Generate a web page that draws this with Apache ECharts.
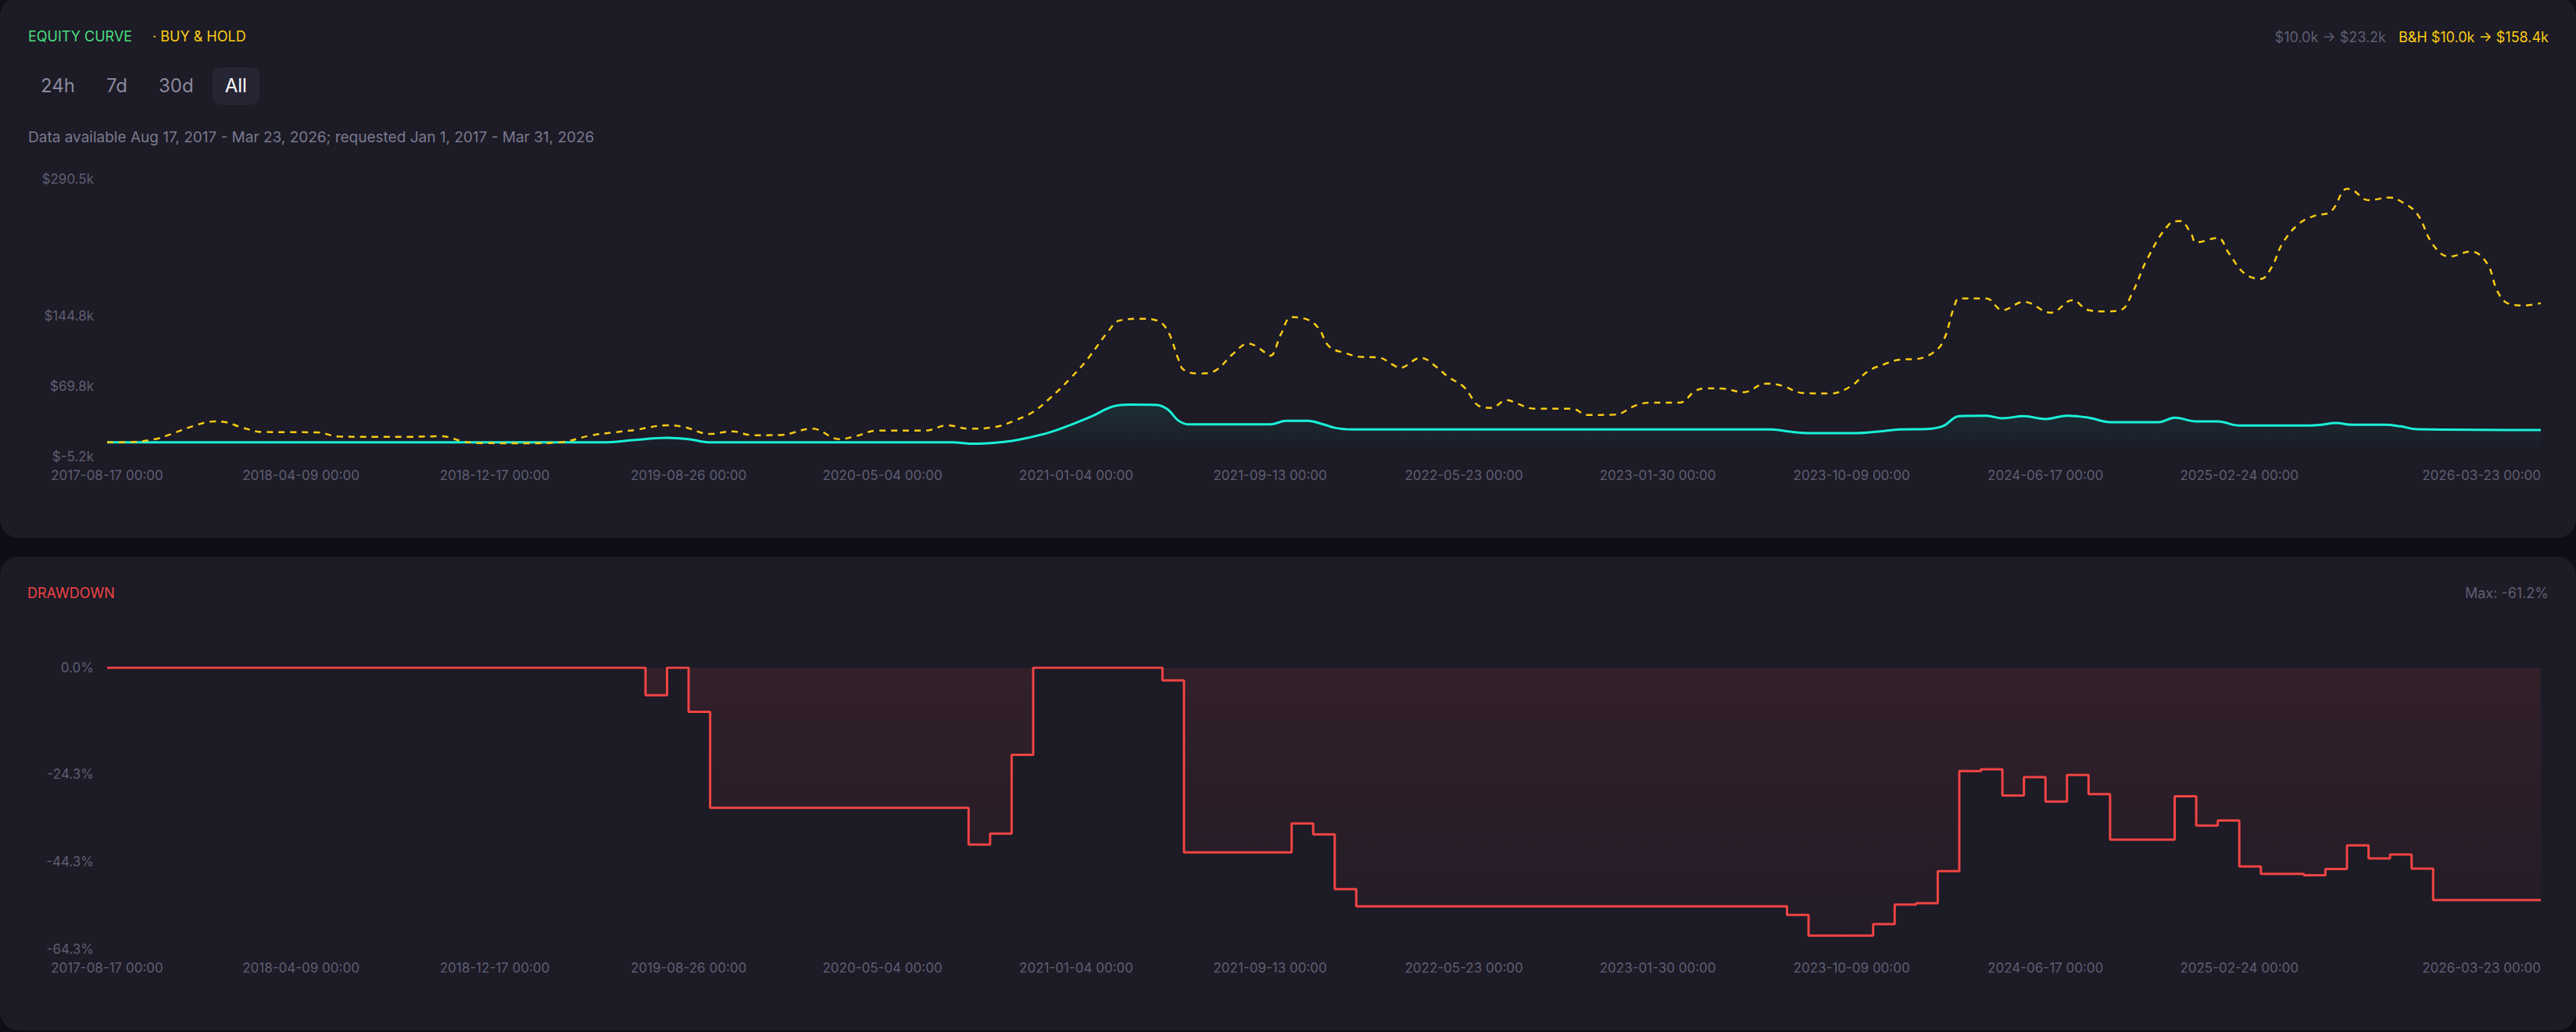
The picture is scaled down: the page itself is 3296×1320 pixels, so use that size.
<!DOCTYPE html>
<html>
<head>
<meta charset="utf-8">
<script src="https://cdn.jsdelivr.net/npm/echarts@6/dist/echarts.min.js"></script>
<style>
html,body{margin:0;padding:0;width:3296px;height:1320px;overflow:hidden;background:#0f0e17;font-family:Inter,'Noto Sans',sans-serif;}
.card{position:absolute;left:0;width:3296px;background:#1c1b26;border-radius:24px;}
#card1{top:-4px;height:692px;}
#card2{top:712px;height:606px;}
.t{position:absolute;white-space:nowrap;line-height:1;}
#title1{left:36px;top:38px;font-size:18px;color:#4ade80;}
#title1b{left:195px;top:38px;font-size:18px;color:#facc15;}
#hdrRight{position:absolute;right:35px;top:39px;font-size:18px;line-height:1;white-space:nowrap;display:flex;gap:16px;}
#hdrRight .g{color:#5f5e73;}
#hdrRight .y{color:#facc15;}
#btns{position:absolute;left:36px;top:86px;display:flex;gap:8px;}
#btns div{height:48px;line-height:48px;padding:0 16px;font-size:24px;color:#8a899c;border-radius:10px;}
#btns div.on{background:#262533;color:#ffffff;}
#avail{left:36px;top:166px;font-size:19px;color:#7a798e;}
#title2{left:35px;top:750px;font-size:18px;color:#ef4444;}
#maxdd{right:35px;top:750px;font-size:18px;color:#5f5e73;}
#chart{position:absolute;left:0;top:0;width:3296px;height:1320px;}
</style>
</head>
<body>
<div class="card" id="card1"></div>
<div class="card" id="card2"></div>
<div class="t" id="title1">EQUITY CURVE</div>
<div class="t" id="title1b">· BUY &amp; HOLD</div>
<div id="hdrRight"><span class="g">$10.0k → $23.2k</span><span class="y">B&amp;H $10.0k → $158.4k</span></div>
<div id="btns"><div>24h</div><div>7d</div><div>30d</div><div class="on">All</div></div>
<div class="t" id="avail">Data available Aug 17, 2017 - Mar 23, 2026; requested Jan 1, 2017 - Mar 31, 2026</div>
<div class="t" id="title2">DRAWDOWN</div>
<div class="t" id="maxdd">Max: -61.2%</div>
<div id="chart"></div>
<script>
// ---------- categories (weekly buckets) ----------
const headDates = ['2017-08-17', '2017-08-18', '2017-08-19'];
const extraDates = ['2021-01-01'];
function mondays(fromStr, toStr) {
  const out = [];
  let t = Date.parse(fromStr + 'T00:00:00Z');
  const end = Date.parse(toStr + 'T00:00:00Z');
  while (t <= end) { out.push(new Date(t).toISOString().slice(0, 10)); t += 7 * 86400000; }
  return out;
}
const categories = []
  .concat(headDates, mondays('2017-08-21', '2020-12-28'), extraDates, mondays('2021-01-04', '2026-03-23'))
  .map(d => d + ' 00:00');

// ---------- tick labels ----------
const xTickLabels = ['2017-08-17 00:00','2018-04-09 00:00','2018-12-17 00:00','2019-08-26 00:00','2020-05-04 00:00',
  '2021-01-04 00:00','2021-09-13 00:00','2022-05-23 00:00','2023-01-30 00:00','2023-10-09 00:00','2024-06-17 00:00',
  '2025-02-24 00:00','2026-03-23 00:00'];
const equityTicks = [-5.2, 69.8, 144.8, 290.5];     // $k
const drawdownTicks = [0, -24.3, -44.3, -64.3];     // %

// ---------- series values: [week index, value] ----------
// strategy equity, $k
const equity = [
  [0,10.0],[92,10.0],[98,12.5],[104,14.8],[108,13.4],[112,10.0],[157,10.0],[161,8.5],[165,9.6],[168,11.5],
  [171,14.8],[175,20.5],[179,28.7],[183,38.0],[187,48.5],[190,50.2],[195,49.8],[197,45.0],[199,33.0],[201,29.1],
  [216,29.1],[219,33.0],[223,32.9],[226,29.0],[228,25.5],[231,23.7],[309,23.7],[313,21.0],[316,19.8],[325,19.8],
  [329,21.5],[333,23.7],[338,24.2],[341,27.3],[344,38.0],[349,38.4],[352,35.6],[356,37.9],[360,34.8],[364,38.4],
  [368,36.3],[372,31.5],[381,31.5],[384,36.2],[388,32.3],[392,32.3],[396,27.9],[409,27.9],[411,28.5],[414,30.6],
  [417,28.7],[423,28.7],[426,27.0],[429,24.0],[452,23.2]
];
// buy & hold, $k
const buyHold = [
  [0,10.0],[5,10.5],[9,13.5],[12,19.0],[16,27.3],[20,32.3],[22,31.5],[25,25.9],[29,21.0],[34,20.8],[39,20.6],
  [43,16.2],[50,15.8],[56,15.8],[62,16.5],[66,11.2],[69,9.2],[78,9.0],[84,10.0],[90,17.5],[94,20.5],[98,23.1],
  [104,28.1],[107,26.5],[112,19.0],[116,21.7],[120,17.5],[125,17.8],[131,24.5],[136,13.4],[139,16.5],[143,22.5],
  [152,22.5],[156,28.1],[160,24.5],[165,26.5],[169,34.2],[172,42.5],[175,56.4],[179,78.7],[182,98.0],[186,128.6],
  [188,139.7],[192,141.7],[195,139.7],[197,128.6],[199,98.0],[200,87.0],[203,83.4],[206,87.0],[209,103.7],
  [212,115.3],[214,110.0],[216,102.3],[218,125.0],[220,143.4],[223,140.6],[225,131.5],[227,112.0],[230,105.0],
  [233,100.9],[236,100.5],[239,92.0],[240,89.2],[244,100.0],[247,89.8],[249,80.0],[252,68.9],[255,48.1],
  [257,46.7],[260,55.0],[262,51.0],[265,45.9],[272,45.9],[275,39.2],[280,39.5],[284,49.5],[287,52.3],[292,52.3],
  [295,64.8],[297,67.5],[300,67.2],[304,63.4],[308,72.5],[311,70.5],[315,62.5],[320,62.0],[324,70.3],[327,85.6],
  [330,93.1],[333,98.1],[336,98.8],[339,105.0],[341,117.5],[343,153.6],[344,163.3],[349,163.3],[352,150.8],
  [356,159.7],[361,148.1],[365,161.4],[368,150.8],[371,149.5],[374,151.0],[376,167.5],[379,206.4],[383,242.5],
  [385,245.8],[387,232.8],[388,223.0],[392,227.8],[394,212.0],[397,189.7],[400,184.1],[402,196.6],[404,221.6],
  [407,242.5],[410,251.4],[413,255.8],[416,280.0],[417,279.0],[420,268.0],[424,270.8],[426,266.8],[429,253.6],
  [432,220.3],[435,207.8],[439,213.3],[442,200.8],[444,170.3],[446,157.8],[449,155.8],[452,158.4]
];
// drawdown, % (step changes)
const drawdown = [
  [0,0],[100,-6.3],[104,0],[108,-10.1],[112,-32.0],[160,-40.4],[164,-37.9],[168,-19.9],[172,0],[196,-2.9],
  [200,-42.2],[220,-35.6],[224,-38.1],[228,-50.6],[232,-54.5],[312,-56.5],[316,-61.2],[328,-58.6],[332,-54.1],
  [336,-53.8],[340,-46.5],[344,-23.6],[348,-23.2],[352,-29.2],[356,-25.0],[360,-30.6],[364,-24.5],[368,-28.9],
  [372,-39.3],[384,-29.4],[388,-36.1],[392,-34.9],[396,-45.4],[400,-47.1],[408,-47.4],[412,-46.0],[416,-40.6],
  [420,-43.6],[424,-42.7],[428,-45.9],[432,-53.1],[452,-53.1]
];

// ---------- chart ----------
const labelColor = '#5f5e73';
const font = 'Inter, "Noto Sans", sans-serif';
const xTickSet = new Set(xTickLabels);
function xAxisFor(gi) {
  return {
    type: 'category', gridIndex: gi, data: categories, boundaryGap: false,
    axisLine: { show: false }, axisTick: { show: false }, splitLine: { show: false },
    axisLabel: {
      color: labelColor, fontSize: 17, fontFamily: font, margin: 15,
      interval: (idx, val) => xTickSet.has(val),
      alignMaxLabel: 'right'
    }
  };
}
function hasTick(list, v) { return list.some(t => Math.abs(t - v) < 0.05); }
const chart = echarts.init(document.getElementById('chart'), null, { renderer: 'svg' });
chart.setOption({
  animation: false,
  backgroundColor: 'transparent',
  grid: [
    { left: 137, right: 45, top: 229, height: 355, outerBoundsMode: 'none' },
    { left: 137, right: 45, top: 854, height: 360, outerBoundsMode: 'none' }
  ],
  xAxis: [xAxisFor(0), xAxisFor(1)],
  yAxis: [
    {
      type: 'value', gridIndex: 0, min: -5.2, max: 290.5, interval: 75,
      axisLine: { show: false }, axisTick: { show: false }, splitLine: { show: false },
      axisLabel: { color: labelColor, fontSize: 17, fontFamily: font, margin: 17,
        formatter: v => hasTick(equityTicks, v) ? '$' + v.toFixed(1) + 'k' : '' }
    },
    {
      type: 'value', gridIndex: 1, min: -64.3, max: 0, interval: 20,
      axisLine: { show: false }, axisTick: { show: false }, splitLine: { show: false },
      axisLabel: { color: labelColor, fontSize: 17, fontFamily: font, margin: 17,
        formatter: v => hasTick(drawdownTicks, v) ? v.toFixed(1) + '%' : '' }
    }
  ],
  series: [
    {
      name: 'Equity', type: 'line', xAxisIndex: 0, yAxisIndex: 0, data: equity,
      smooth: 0.4, symbol: 'none',
      lineStyle: { color: '#1af0d8', width: 3 },
      areaStyle: { color: new echarts.graphic.LinearGradient(0, 0, 0, 1, [
        { offset: 0, color: 'rgba(26,240,216,0.13)' }, { offset: 1, color: 'rgba(26,240,216,0)' }]) }
    },
    {
      name: 'Buy & Hold', type: 'line', xAxisIndex: 0, yAxisIndex: 0, data: buyHold,
      smooth: 0.4, symbol: 'none',
      lineStyle: { color: '#facc15', width: 2.5, type: [8, 7] }
    },
    {
      name: 'Drawdown', type: 'line', xAxisIndex: 1, yAxisIndex: 1, data: drawdown,
      step: 'end', symbol: 'none',
      lineStyle: { color: '#ef4444', width: 3 },
      areaStyle: { color: new echarts.graphic.LinearGradient(0, 0, 0, 1, [
        { offset: 0, color: 'rgba(239,68,68,0.15)' }, { offset: 1, color: 'rgba(239,68,68,0.045)' }]) }
    }
  ]
});
</script>
</body>
</html>
